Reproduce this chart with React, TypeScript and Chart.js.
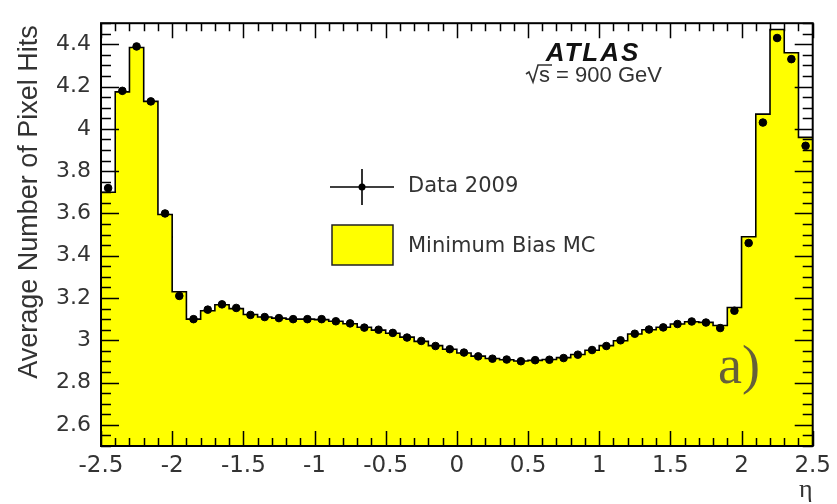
import React, { useEffect, useRef } from "react";
import { Chart, registerables } from "chart.js";

Chart.register(...registerables);

// Bin centres in eta (bin width 0.1)
const etaBins = [
  -2.45, -2.35, -2.25, -2.15, -2.05, -1.95, -1.85, -1.75, -1.65, -1.55,
  -1.45, -1.35, -1.25, -1.15, -1.05, -0.95, -0.85, -0.75, -0.65, -0.55,
  -0.45, -0.35, -0.25, -0.15, -0.05, 0.05, 0.15, 0.25, 0.35, 0.45,
  0.55, 0.65, 0.75, 0.85, 0.95, 1.05, 1.15, 1.25, 1.35, 1.45,
  1.55, 1.65, 1.75, 1.85, 1.95, 2.05, 2.15, 2.25, 2.35, 2.45,
];
const binHalfWidth = 0.05;

// Data 2009 (points)
const data2009 = [
  3.72, 4.18, 4.39, 4.13, 3.6, 3.21, 3.1, 3.145, 3.17, 3.153,
  3.12, 3.11, 3.105, 3.1, 3.1, 3.1, 3.09, 3.08, 3.06, 3.05,
  3.035, 3.013, 2.997, 2.973, 2.958, 2.942, 2.924, 2.913, 2.909, 2.901,
  2.906, 2.908, 2.916, 2.932, 2.954, 2.973, 3.0, 3.031, 3.051, 3.061,
  3.077, 3.089, 3.084, 3.058, 3.14, 3.46, 4.03, 4.43, 4.33, 3.92,
];

// Minimum Bias MC (filled histogram)
const mcMinBias = [
  3.7, 4.175, 4.385, 4.13, 3.595, 3.23, 3.1, 3.14, 3.168, 3.15,
  3.122, 3.11, 3.105, 3.1, 3.1, 3.098, 3.09, 3.078, 3.062, 3.048,
  3.033, 3.015, 2.995, 2.975, 2.958, 2.94, 2.925, 2.914, 2.908, 2.902,
  2.905, 2.909, 2.918, 2.933, 2.953, 2.975, 2.998, 3.03, 3.05, 3.062,
  3.077, 3.088, 3.085, 3.07, 3.155, 3.49, 4.07, 4.47, 4.36, 3.96,
];

const xTickValues = [-2.5, -2, -1.5, -1, -0.5, 0, 0.5, 1, 1.5, 2, 2.5];
const yTickValues = [2.6, 2.8, 3, 3.2, 3.4, 3.6, 3.8, 4, 4.2, 4.4];
const xRange = [-2.5, 2.5];
const yRange = [2.5, 4.5];

const yTitle = "Average Number of Pixel Hits";
const xTitle = "η";
const legendData = "Data 2009";
const legendMC = "Minimum Bias MC";
const atlasLabel = "ATLAS";
const energyLabel = "s = 900 GeV";
const panelLabel = "a)";

const W = 837;
const H = 504;

const decorPlugin = {
  id: "rootDecor",
  afterDatasetsDraw(chart: any) {
    const { ctx, chartArea } = chart;
    const xs = chart.scales.x;
    const ys = chart.scales.y;
    const { left, right, top, bottom } = chartArea;
    ctx.save();
    ctx.strokeStyle = "#000";
    ctx.lineWidth = 1.5;

    // x ticks: minor at bin edges, major at labelled values
    const edges: number[] = etaBins.map((c) => c - binHalfWidth);
    edges.push(etaBins[etaBins.length - 1] + binHalfWidth);
    ctx.beginPath();
    edges.forEach((e) => {
      const px = Math.round(xs.getPixelForValue(e)) + 0.5;
      ctx.moveTo(px, bottom);
      ctx.lineTo(px, bottom - 8);
      ctx.moveTo(px, top);
      ctx.lineTo(px, top + 8);
    });
    xTickValues.forEach((v) => {
      const px = Math.round(xs.getPixelForValue(v)) + 0.5;
      ctx.moveTo(px, bottom);
      ctx.lineTo(px, bottom - 15);
      ctx.moveTo(px, top);
      ctx.lineTo(px, top + 15);
    });
    // y ticks
    const yStep = yTickValues[1] - yTickValues[0];
    const yMinor = yStep / 4;
    const nMinor = Math.round((yRange[1] - yRange[0]) / yMinor);
    for (let i = 0; i <= nMinor; i++) {
      const v = yRange[0] + i * yMinor;
      const py = Math.round(ys.getPixelForValue(v)) + 0.5;
      ctx.moveTo(left, py);
      ctx.lineTo(left + 10, py);
      ctx.moveTo(right, py);
      ctx.lineTo(right - 10, py);
    }
    yTickValues.forEach((v) => {
      const py = Math.round(ys.getPixelForValue(v)) + 0.5;
      ctx.moveTo(left, py);
      ctx.lineTo(left + 18, py);
      ctx.moveTo(right, py);
      ctx.lineTo(right - 18, py);
    });
    ctx.stroke();

    // frame
    ctx.lineWidth = 2;
    ctx.strokeRect(left, top, right - left, bottom - top);

    // y title
    ctx.save();
    ctx.fillStyle = "#333";
    ctx.font = "27px 'Liberation Sans', Arial, sans-serif";
    ctx.translate(37, top + 2);
    ctx.rotate(-Math.PI / 2);
    ctx.textAlign = "right";
    ctx.textBaseline = "alphabetic";
    ctx.fillText(yTitle, 0, 0);
    ctx.restore();

    // x title
    ctx.fillStyle = "#333";
    ctx.font = "26px 'Liberation Serif', serif";
    ctx.textAlign = "right";
    ctx.textBaseline = "alphabetic";
    ctx.fillText(xTitle, right, 497);

    // ATLAS label
    ctx.save();
    ctx.fillStyle = "#111";
    ctx.font = "italic bold 26px 'Liberation Sans', Arial, sans-serif";
    ctx.textAlign = "center";
    (ctx as any).letterSpacing = "2px";
    ctx.fillText(atlasLabel, 593, 61);
    ctx.restore();

    // sqrt(s) label
    ctx.fillStyle = "#333";
    ctx.font = "22px 'Liberation Sans', Arial, sans-serif";
    ctx.textAlign = "left";
    const rx = 526;
    const by = 82;
    ctx.strokeStyle = "#333";
    ctx.lineWidth = 1.6;
    ctx.beginPath();
    ctx.moveTo(rx, by - 8);
    ctx.lineTo(rx + 3, by - 10);
    ctx.lineTo(rx + 7, by);
    ctx.lineTo(rx + 12, by - 17);
    ctx.lineTo(rx + 26, by - 17);
    ctx.stroke();
    ctx.fillText(energyLabel, rx + 13, by);

    // legend: data marker
    const lx = 362;
    const ly = 187;
    ctx.strokeStyle = "#000";
    ctx.lineWidth = 1.6;
    ctx.beginPath();
    ctx.moveTo(lx - 32, ly);
    ctx.lineTo(lx + 32, ly);
    ctx.moveTo(lx, ly - 18);
    ctx.lineTo(lx, ly + 18);
    ctx.stroke();
    ctx.fillStyle = "#000";
    ctx.beginPath();
    ctx.arc(lx, ly, 3.5, 0, Math.PI * 2);
    ctx.fill();
    ctx.fillStyle = "#333";
    ctx.font = "21px 'DejaVu Sans', sans-serif";
    ctx.textAlign = "left";
    ctx.textBaseline = "middle";
    ctx.fillText(legendData, 408, ly);

    // legend: MC box
    ctx.fillStyle = "#ffff00";
    ctx.fillRect(332, 225, 61, 40);
    ctx.strokeStyle = "#222";
    ctx.lineWidth = 1.5;
    ctx.strokeRect(332, 225, 61, 40);
    ctx.fillStyle = "#333";
    ctx.fillText(legendMC, 408, 247);

    // panel label
    ctx.fillStyle = "#66603a";
    ctx.font = "54px 'Liberation Serif', serif";
    ctx.textAlign = "left";
    ctx.textBaseline = "alphabetic";
    ctx.fillText(panelLabel, 718, 383);

    ctx.restore();
  },
};

export default function App() {
  const canvasRef = useRef<HTMLCanvasElement | null>(null);

  useEffect(() => {
    const canvas = canvasRef.current;
    if (!canvas) return;

    const mcSteps = etaBins.map((c, i) => ({ x: c - binHalfWidth, y: mcMinBias[i] }));
    mcSteps.push({
      x: etaBins[etaBins.length - 1] + binHalfWidth,
      y: mcMinBias[mcMinBias.length - 1],
    });
    const points = etaBins.map((c, i) => ({ x: c, y: data2009[i] }));

    const chart = new Chart(canvas, {
      type: "scatter",
      data: {
        datasets: [
          {
            label: legendData,
            data: points,
            backgroundColor: "#000",
            borderColor: "#000",
            pointRadius: 3.8,
            pointHoverRadius: 3.8,
            showLine: false,
          },
          {
            type: "line",
            label: legendMC,
            data: mcSteps,
            stepped: "before",
            borderColor: "#000",
            borderWidth: 1.6,
            backgroundColor: "#ffff00",
            fill: "start",
            pointRadius: 0,
            tension: 0,
          } as any,
        ],
      },
      options: {
        responsive: false,
        animation: false,
        devicePixelRatio: 1,
        layout: { padding: { left: 0, right: 23, top: 10, bottom: 0 } },
        plugins: {
          legend: { display: false },
          tooltip: { enabled: false },
        },
        scales: {
          x: {
            type: "linear",
            min: xRange[0],
            max: xRange[1],
            grid: { display: false, drawTicks: false },
            border: { display: false },
            afterBuildTicks: (s: any) => {
              s.ticks = xTickValues.map((v) => ({ value: v }));
            },
            afterFit: (s: any) => {
              s.height = 58;
            },
            ticks: {
              autoSkip: false,
              maxRotation: 0,
              padding: 6,
              color: "#333",
              font: { family: "'DejaVu Sans', sans-serif", size: 23 },
              callback: (v: any) => String(v),
            },
          },
          y: {
            type: "linear",
            min: yRange[0],
            max: yRange[1],
            grid: { display: false, drawTicks: false },
            border: { display: false },
            afterBuildTicks: (s: any) => {
              s.ticks = yTickValues.map((v) => ({ value: v }));
            },
            afterFit: (s: any) => {
              s.width = 101;
            },
            ticks: {
              padding: 10,
              color: "#333",
              font: { family: "'DejaVu Sans', sans-serif", size: 22 },
              callback: (v: any) => String(v),
            },
          },
        },
      },
      plugins: [decorPlugin],
    });

    return () => {
      chart.destroy();
    };
  }, []);

  return (
    <div style={{ position: "absolute", left: 0, top: 0, width: W, height: H, background: "#fff" }}>
      <canvas ref={canvasRef} width={W} height={H} style={{ display: "block" }} />
    </div>
  );
}
